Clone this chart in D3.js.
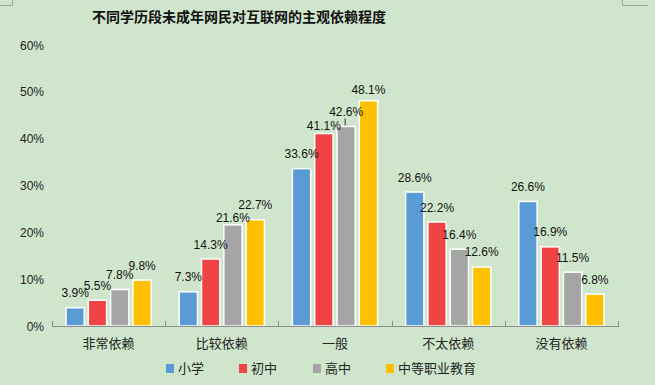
<!DOCTYPE html>
<html>
<head>
<meta charset="utf-8">
<script src="https://cdn.jsdelivr.net/npm/d3@7"></script>
<style>
  html, body { margin: 0; padding: 0; background: #d0e6cc; }
  svg { display: block; }
</style>
</head>
<body>
<svg id="chart" width="655" height="385"></svg>
<script>
// chart data
const categories = ['非常依赖', '比较依赖', '一般', '不太依赖', '没有依赖'];
const seriesNames = ['小学', '初中', '高中', '中等职业教育'];
const xiaoxue = [3.9, 7.3, 33.6, 28.6, 26.6];
const chuzhong = [5.5, 14.3, 41.1, 22.2, 16.9];
const gaozhong = [7.8, 21.6, 42.6, 16.4, 11.5];
const zhongzhi = [9.8, 22.7, 48.1, 12.6, 6.8];
const yTicks = [0, 10, 20, 30, 40, 50, 60];

const seriesValues = [xiaoxue, chuzhong, gaozhong, zhongzhi];
const colors = ['#5b9bd5', '#f04343', '#a5a5a5', '#ffc000'];
const font = "'Liberation Sans', Arial, 'Noto Sans CJK SC', sans-serif";
const cjk = "'Noto Sans CJK SC', sans-serif";

const svg = d3.select('#chart');

// background
svg.append('rect').attr('width', 655).attr('height', 385).attr('fill', '#d0e6cc');

// small corner marks at the top
svg.append('path').attr('d', 'M0,5.5H12.5V0').attr('fill', 'none').attr('stroke', '#9aa89a').attr('stroke-width', 1);
svg.append('path').attr('d', 'M622.5,0V5.5H648').attr('fill', 'none').attr('stroke', '#9aa89a').attr('stroke-width', 1);

// title
svg.append('text')
  .attr('x', 239).attr('y', 22)
  .attr('text-anchor', 'middle')
  .attr('font-family', cjk)
  .attr('font-weight', 'bold')
  .attr('font-size', 14)
  .attr('fill', '#111')
  .text('不同学历段未成年网民对互联网的主观依赖程度');

const x0 = d3.scaleBand().domain(categories).range([52, 618]).padding(0);
const x1 = d3.scaleBand().domain(seriesNames).range([14, x0.bandwidth() - 14]).paddingInner(0.18);
const y = d3.scaleLinear().domain([0, 60]).range([326, 45]);

// y tick labels (no axis line)
svg.append('g').selectAll('text')
  .data(yTicks)
  .enter()
  .append('text')
  .attr('x', 44)
  .attr('y', d => y(d) + 4.5)
  .attr('text-anchor', 'end')
  .attr('font-family', font)
  .attr('font-size', 12)
  .attr('fill', '#222')
  .text(d => d + '%');

// bars
const groups = svg.append('g').selectAll('g')
  .data(categories)
  .enter()
  .append('g')
  .attr('transform', d => `translate(${x0(d)},0)`);

groups.selectAll('rect')
  .data((c, ci) => seriesNames.map((s, si) => ({ s: s, si: si, v: seriesValues[si][ci] })))
  .enter()
  .append('rect')
  .attr('x', d => x1(d.s))
  .attr('y', d => y(d.v))
  .attr('width', x1.bandwidth())
  .attr('height', d => y(0) - y(d.v))
  .attr('fill', d => colors[d.si])
  .attr('stroke', '#ffffff')
  .attr('stroke-width', 1.5);

// data labels: most sit ~11px above the bar, a couple were dragged lower
// in the original to dodge their neighbour
const labelGap = (ci, si) => {
  if (ci === 1 && si === 2) return 3;   // 21.6%
  if (ci === 2 && si === 1) return 4;   // 41.1%
  if (ci === 2 && si === 3) return 7;   // 48.1%
  return 10.5;
};

groups.each(function(c, ci) {
  const g = d3.select(this);
  seriesNames.forEach((s, si) => {
    const v = seriesValues[si][ci];
    const cx = x1(s) + x1.bandwidth() / 2;
    const top = y(v);
    g.append('text')
      .attr('x', cx)
      .attr('y', top - labelGap(ci, si))
      .attr('text-anchor', 'middle')
      .attr('font-family', font)
      .attr('font-size', 12)
      .attr('fill', '#111')
      .text(v.toFixed(1) + '%');
    // 42.6% has a short leader line down to its bar
    if (ci === 2 && si === 2) {
      g.append('line')
        .attr('x1', cx - 1).attr('x2', cx - 1)
        .attr('y1', top - 8).attr('y2', top - 1)
        .attr('stroke', '#333').attr('stroke-width', 1);
    }
  });
});

// x axis: baseline with inside ticks at band edges
const axisG = svg.append('g');
axisG.append('line')
  .attr('x1', 52).attr('x2', 618)
  .attr('y1', 326.5).attr('y2', 326.5)
  .attr('stroke', '#8c8c8c').attr('stroke-width', 1);
const edges = categories.map(c => x0(c)).concat([x0.range()[1]]);
axisG.selectAll('line.tick')
  .data(edges)
  .enter()
  .append('line')
  .attr('class', 'tick')
  .attr('x1', d => Math.round(d) + 0.5).attr('x2', d => Math.round(d) + 0.5)
  .attr('y1', 321).attr('y2', 327)
  .attr('stroke', '#8c8c8c').attr('stroke-width', 1);

// category labels
axisG.selectAll('text')
  .data(categories)
  .enter()
  .append('text')
  .attr('x', d => x0(d) + x0.bandwidth() / 2)
  .attr('y', 348)
  .attr('text-anchor', 'middle')
  .attr('font-family', cjk)
  .attr('font-size', 13)
  .attr('fill', '#222')
  .text(d => d);

// legend
const legendX = [166, 239, 313, 386];
const legend = svg.append('g').selectAll('g')
  .data(seriesNames)
  .enter()
  .append('g')
  .attr('transform', (d, i) => `translate(${legendX[i]},364)`);
legend.append('rect')
  .attr('width', 8).attr('height', 9)
  .attr('fill', (d, i) => colors[i]);
legend.append('text')
  .attr('x', 12).attr('y', 9)
  .attr('font-family', cjk)
  .attr('font-size', 13)
  .attr('fill', '#222')
  .text(d => d);
</script>
</body>
</html>
